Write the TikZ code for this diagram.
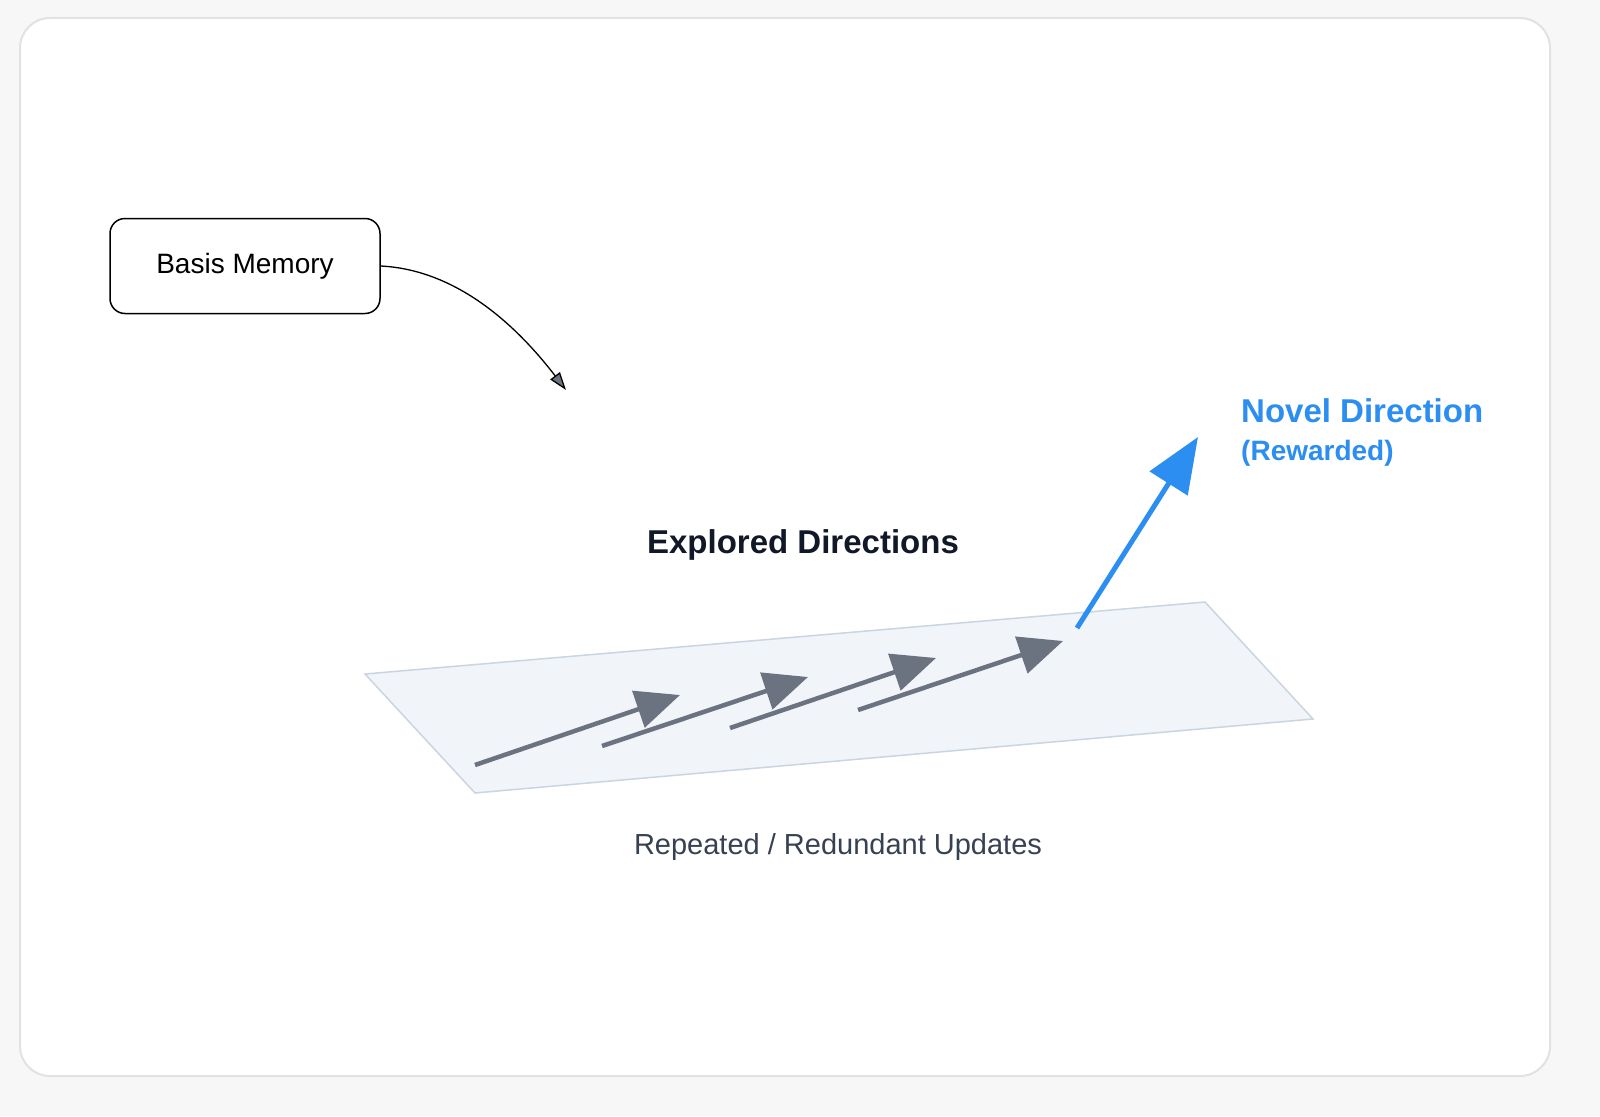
\documentclass[tikz,border=0pt]{standalone}
\usepackage{fontspec}
\setmainfont{Liberation Sans}
\usetikzlibrary{arrows.meta}
\definecolor{gr}{HTML}{6B7280}
\definecolor{bl}{HTML}{2B8EF0}
\definecolor{pl}{HTML}{F1F4F9}
\definecolor{pls}{HTML}{CBD5E1}
\definecolor{bgc}{HTML}{F7F7F7}
\definecolor{brd}{HTML}{E2E2E2}
\definecolor{tx1}{HTML}{111827}
\definecolor{tx2}{HTML}{374151}
\tikzset{
 upd/.style={draw=gr,line width=4.5pt,-{Triangle[length=44pt,width=38pt,fill=gr]}},
 lbl/.style={inner sep=0pt,font=\fontsize{29}{34}\selectfont}
}
\begin{document}
\begin{tikzpicture}[x=1pt,y=-1pt]
\useasboundingbox (0,0) rectangle (1600,1116);
\fill[bgc] (0,0) rectangle (1600,1116);
\draw[draw=brd,line width=2pt,fill=white,rounded corners=30pt] (20,18) rectangle (1550,1076);
\node[draw=black,line width=1.5pt,rounded corners=15pt,minimum width=270pt,minimum height=95pt,font=\fontsize{28}{33}\selectfont] (bm) at (245,266) {Basis Memory};
\coordinate (bt) at (566,390);
\draw[line width=1.3pt,-{Triangle[length=18pt,width=12pt,fill=gr]},draw=black] (bm.east) .. controls (460,270) and (520,330) .. (bt);
\draw[fill=pl,draw=pls,line width=1.5pt] (365,674) -- (1205,602) -- (1313,719) -- (475,793) -- cycle;
\coordinate (a1) at (475,765); \coordinate (b1) at (680,695);
\coordinate (a2) at (602,746); \coordinate (b2) at (808,677);
\coordinate (a3) at (730,728); \coordinate (b3) at (936,658);
\coordinate (a4) at (858,710); \coordinate (b4) at (1063,641);
\draw[upd] (a1) -- (b1);
\draw[upd] (a2) -- (b2);
\draw[upd] (a3) -- (b3);
\draw[upd] (a4) -- (b4);
\coordinate (c0) at (1077,628); \coordinate (c1) at (1198,437);
\draw[draw=bl,line width=5pt,-{Triangle[length=55pt,width=44pt,fill=bl]}] (c0) -- (c1);
\node[lbl,font=\fontsize{33}{38}\selectfont\bfseries,text=tx1] (ed) at (803,545) {Explored Directions};
\node[lbl,text=tx2] (ru) at (838,847) {Repeated / Redundant Updates};
\node[lbl,anchor=west,font=\fontsize{33}{38}\selectfont\bfseries,text=bl] (nd) at (1241,411) {Novel Direction};
\node[lbl,anchor=west,font=\fontsize{28}{33}\selectfont\bfseries,text=bl] (rw) at (1241,453) {(Rewarded)};
\end{tikzpicture}
\end{document}
